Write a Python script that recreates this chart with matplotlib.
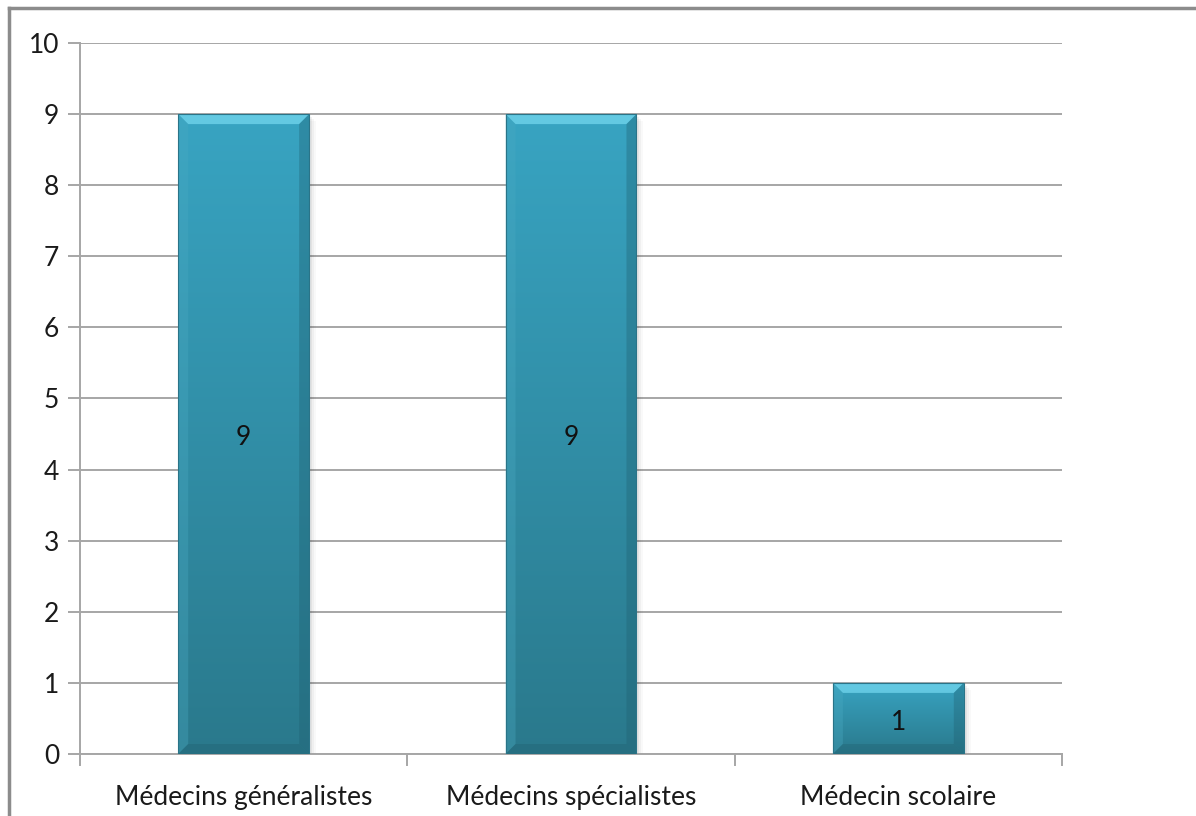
import numpy as np
import matplotlib.pyplot as plt
from matplotlib.colors import LinearSegmentedColormap
from matplotlib.patches import Polygon, Rectangle
from matplotlib.lines import Line2D

categories = ["Médecins généralistes", "Médecins spécialistes", "Médecin scolaire"]
values = [9, 9, 1]

plt.rcParams["font.family"] = ["Lato", "DejaVu Sans"]

fig = plt.figure(figsize=(11.96, 8.16), dpi=100)
ax = fig.add_axes([80 / 1196, 62 / 816, 982 / 1196, 711 / 816])

x = np.arange(len(categories))
width = 0.4
ax.set_xlim(-0.5, len(categories) - 0.5)
ax.set_ylim(0, 10)

# gridlines and axes in the usual office grey
grid_col = "#a6a6a6"
for y in range(0, 11):
    ax.axhline(y, color=grid_col, lw=1.4, zorder=1)
ax.spines["top"].set_visible(False)
ax.spines["right"].set_visible(False)
ax.spines["left"].set_color(grid_col)
ax.spines["bottom"].set_color(grid_col)
ax.spines["left"].set_linewidth(1.4)
ax.spines["bottom"].set_linewidth(1.4)

ax.set_yticks(range(0, 11))
ax.tick_params(axis="y", length=9, width=1.4, color=grid_col, labelsize=19,
               pad=6, labelcolor="#1a1a1a")
ax.set_xticks(x)
ax.set_xticklabels(categories)
ax.tick_params(axis="x", length=0, labelsize=19, pad=22, labelcolor="#1a1a1a")
# category separators below the axis
for b in np.arange(-0.5, len(categories), 1.0):
    ax.plot([b, b], [0, -0.15], color=grid_col, lw=1.4, clip_on=False, zorder=1)

cmap = LinearSegmentedColormap.from_list("bar", ["#2a798c", "#38a4c2"])
grad = np.linspace(0, 1, 256).reshape(-1, 1)

# bevel size in data units (about 10 px)
ppx = 982 / 3.0
ppy = 711 / 10.0
bx = 10 / ppx
by = 10 / ppy

for xi, v in zip(x, values):
    x0, x1 = xi - width / 2, xi + width / 2
    # soft shadow
    for k, a in enumerate([0.05, 0.035, 0.025]):
        off_x = (3 + 2 * k) / ppx
        off_y = (3 + 2 * k) / ppy
        ax.add_patch(Rectangle((x0 + off_x, -off_y), width, v, color="black",
                               alpha=a, lw=0, zorder=2))
    im = ax.imshow(grad, cmap=cmap, origin="lower", aspect="auto",
                   extent=(x0, x1, 0, v), zorder=3, interpolation="bilinear")
    clip = Rectangle((x0, 0), width, v, transform=ax.transData)
    im.set_clip_path(clip)
    # bevel facets
    top = Polygon([(x0, v), (x1, v), (x1 - bx, v - by), (x0 + bx, v - by)],
                  closed=True, color="#72d6ee", lw=0, zorder=4, alpha=0.75)
    left = Polygon([(x0, v), (x0 + bx, v - by), (x0 + bx, by), (x0, 0)],
                   closed=True, color="#4aaac2", lw=0, zorder=4, alpha=0.35)
    right = Polygon([(x1, v), (x1 - bx, v - by), (x1 - bx, by), (x1, 0)],
                    closed=True, color="#1f5f70", lw=0, zorder=4, alpha=0.35)
    bottom = Polygon([(x0, 0), (x1, 0), (x1 - bx, by), (x0 + bx, by)],
                     closed=True, color="#215f6e", lw=0, zorder=4, alpha=0.35)
    for p in (top, left, right, bottom):
        ax.add_patch(p)
    ax.add_patch(Rectangle((x0, 0), width, v, fill=False, ec="#2a7488",
                           lw=0.8, zorder=5))
    ax.text(xi, v / 2 - 0.05, str(v), ha="center", va="center", fontsize=19,
            color="#111111", zorder=6)

# outer chart frame
fig.add_artist(Line2D([9 / 1196, 9 / 1196], [0, 1 - 8 / 816],
                      transform=fig.transFigure, color="#8c8c8c", lw=2.5))
fig.add_artist(Line2D([9 / 1196, 1], [1 - 8 / 816, 1 - 8 / 816],
                      transform=fig.transFigure, color="#8c8c8c", lw=2.5))

fig.savefig("out.png", dpi=100)
